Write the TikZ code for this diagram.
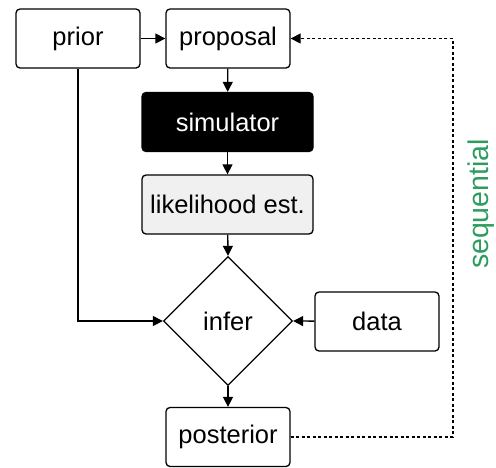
\documentclass[tikz,border=0pt]{standalone}
\usepackage{fontspec}
\setmainfont{Liberation Sans}
\usetikzlibrary{arrows.meta,shapes.geometric}
\definecolor{seqgreen}{RGB}{46,155,95}
\definecolor{lightfill}{RGB}{240,240,240}
\begin{document}
\begin{tikzpicture}[x=1pt,y=-1pt,
  font=\fontsize{25.5}{29}\selectfont,
  box/.style={draw, line width=1.3pt, rounded corners=4pt, minimum width=124pt, minimum height=59pt, inner sep=0pt},
  widebox/.style={box, minimum width=171pt},
  decision/.style={draw, line width=1.3pt, diamond, aspect=1, minimum width=129pt, minimum height=129pt, inner sep=0pt},
  link/.style={line width=1.3pt, -{Triangle[length=10pt,width=10pt]}},
  feedback/.style={line width=1.2pt, dash pattern=on 3pt off 2.5pt, -{Triangle[length=10pt,width=10pt]}}
]
\useasboundingbox (0,0) rectangle (496,467);

\node[box] (prior) at (78,38.5) {prior};
\node[box] (proposal) at (228,38.5) {proposal};
\node[widebox, fill=black, text=white] (simulator) at (227.5,122) {simulator};
\node[widebox, fill=lightfill] (likelihood) at (227.5,204.5) {likelihood est.};
\node[decision] (infer) at (228,321) {infer};
\node[box] (data) at (377,321.5) {data};
\node[box] (posterior) at (228,437) {posterior};
\coordinate (loopbottom) at (453,437);
\coordinate (looptop) at (453,38.5);

\draw[link] (prior) -- (proposal);
\draw[link] (proposal) -- (simulator);
\draw[link] (simulator) -- (likelihood);
\draw[link] (likelihood) -- (infer.north);
\draw[link] (infer.south) -- (posterior);
\draw[link] (data) -- (infer.east);
\draw[link] (prior.south) |- (infer.west);
\draw[feedback] (posterior.east) -- (loopbottom) -- (looptop) -- (proposal.east);

\node[rotate=90, text=seqgreen, font=\fontsize{28.5}{32}\selectfont] (seq) at (481,204) {sequential};
\end{tikzpicture}
\end{document}
